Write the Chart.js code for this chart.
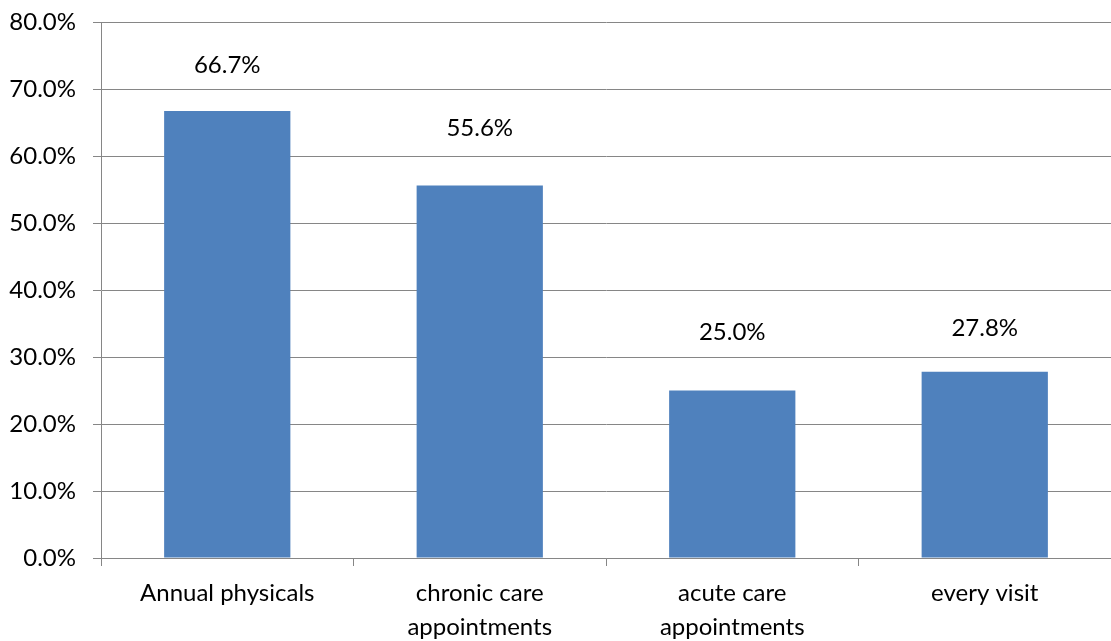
<!DOCTYPE html>
<html>
<head>
<meta charset="utf-8">
<script src="https://cdn.jsdelivr.net/npm/chart.js@4.4.1/dist/chart.umd.min.js"></script>
<style>
  html, body { margin: 0; padding: 0; background: #ffffff; }
  #wrap { width: 1111px; height: 641px; position: relative; }
</style>
</head>
<body>
<div id="wrap"><canvas id="chart"></canvas></div>
<script>
// Share of respondents by visit type (percent)
const categories = [
  'Annual physicals',
  ['chronic care', 'appointments'],
  ['acute care', 'appointments'],
  'every visit'
];
const shares = [66.7, 55.6, 25.0, 27.8];
const yTicks = [0, 10, 20, 30, 40, 50, 60, 70, 80];

const FONT = 'Lato, "Open Sans", sans-serif';
const FONT_SIZE = 24;
const GRID = '#868686';

// Value labels above each bar, with hand-tuned lift per bar
const valueLabels = {
  id: 'valueLabels',
  afterDatasetsDraw(chart, args, opts) {
    const ctx = chart.ctx;
    const meta = chart.getDatasetMeta(0);
    ctx.save();
    ctx.font = FONT_SIZE + 'px ' + FONT;
    ctx.fillStyle = '#000000';
    ctx.textAlign = 'center';
    ctx.textBaseline = 'middle';
    meta.data.forEach((bar, i) => {
      const v = chart.data.datasets[0].data[i];
      ctx.fillText(v.toFixed(1) + '%', bar.x, bar.y - opts.lift[i]);
    });
    ctx.restore();
  }
};

new Chart(document.getElementById('chart'), {
  type: 'bar',
  data: {
    labels: categories,
    datasets: [{
      data: shares,
      backgroundColor: '#4F81BD',
      borderWidth: 0,
      barPercentage: 0.5,
      categoryPercentage: 1.0
    }]
  },
  options: {
    responsive: true,
    maintainAspectRatio: false,
    animation: false,
    layout: { padding: { top: 22, right: 0, bottom: 0, left: 0 } },
    plugins: {
      legend: { display: false },
      tooltip: { enabled: false },
      valueLabels: { lift: [46, 57, 58, 43] }
    },
    scales: {
      x: {
        afterFit(scale) {
          scale.height = 83;
          scale.paddingLeft = 0;
          scale.paddingRight = 0;
        },
        grid: {
          offset: true,
          drawOnChartArea: false,
          drawTicks: true,
          tickLength: 8,
          color: GRID
        },
        border: { color: GRID, width: 1 },
        ticks: {
          color: '#000000',
          padding: 10,
          maxRotation: 0,
          autoSkip: false,
          font: { family: FONT, size: FONT_SIZE, lineHeight: 1.42 }
        }
      },
      y: {
        min: 0,
        max: 80,
        afterFit(scale) {
          scale.width = 101;
          scale.paddingTop = 0;
          scale.paddingBottom = 0;
        },
        afterBuildTicks(scale) { scale.ticks = yTicks.map(v => ({ value: v })); },
        grid: {
          color: GRID,
          tickLength: 8,
          drawTicks: true
        },
        border: { color: GRID, width: 1 },
        ticks: {
          color: '#000000',
          padding: 17,
          font: { family: FONT, size: FONT_SIZE },
          callback: v => v.toFixed(1) + '%'
        }
      }
    }
  },
  plugins: [valueLabels]
});
</script>
</body>
</html>
